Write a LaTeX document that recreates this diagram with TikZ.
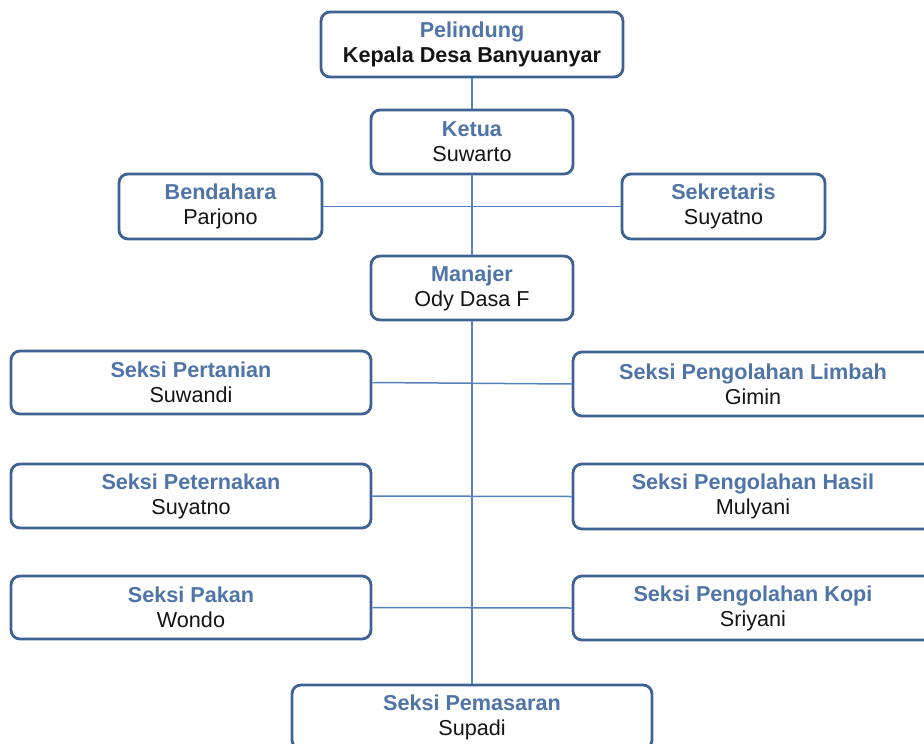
\documentclass[tikz,border=0pt]{standalone}
\usepackage{fontspec}
\setmainfont{Liberation Sans}
\definecolor{boxline}{RGB}{62,98,146}
\definecolor{titleblue}{RGB}{79,116,168}
\definecolor{conn}{RGB}{88,128,186}
\definecolor{nametext}{RGB}{20,20,20}
\tikzset{
  orgbox/.style={draw=boxline, line width=2.8pt, rounded corners=9pt, fill=white,
    align=center, inner sep=0pt, font=\fontsize{21.6}{25}\selectfont, text=nametext},
  link/.style={draw=conn, line width=1.5pt}
}
\newcommand{\ttl}[1]{{\bfseries\color{titleblue}#1}}
\begin{document}
\begin{tikzpicture}[x=1pt,y=1pt]
\useasboundingbox (0,0) rectangle (924,-744);
\node[orgbox, minimum width=302pt, minimum height=65pt] (pel) at (472,-44.5) {\ttl{Pelindung}\\\bfseries Kepala Desa Banyuanyar};
\node[orgbox, minimum width=202pt, minimum height=64pt] (ket) at (472,-142) {\ttl{Ketua}\\Suwarto};
\node[orgbox, minimum width=203pt, minimum height=65pt] (ben) at (220.5,-206.5) {\ttl{Bendahara}\\Parjono};
\node[orgbox, minimum width=203pt, minimum height=65pt] (sek) at (723.5,-206.5) {\ttl{Sekretaris}\\Suyatno};
\node[orgbox, minimum width=202pt, minimum height=64pt] (man) at (472,-288) {\ttl{Manajer}\\Ody Dasa F};
\node[orgbox, minimum width=360pt, minimum height=63pt] (per) at (191,-382.5) {\ttl{Seksi Pertanian}\\Suwandi};
\node[orgbox, minimum width=360pt, minimum height=64pt] (lim) at (753,-384) {\ttl{Seksi Pengolahan Limbah}\\Gimin};
\node[orgbox, minimum width=360pt, minimum height=64pt] (pet) at (191,-496) {\ttl{Seksi Peternakan}\\Suyatno};
\node[orgbox, minimum width=360pt, minimum height=65pt] (has) at (753,-496.5) {\ttl{Seksi Pengolahan Hasil}\\Mulyani};
\node[orgbox, minimum width=360pt, minimum height=63pt] (pak) at (191,-607.5) {\ttl{Seksi Pakan}\\Wondo};
\node[orgbox, minimum width=360pt, minimum height=64pt] (kop) at (753,-608) {\ttl{Seksi Pengolahan Kopi}\\Sriyani};
\node[orgbox, minimum width=360pt, minimum height=64pt] (pem) at (472,-717) {\ttl{Seksi Pemasaran}\\Supadi};
\draw[link] (pel.south) -- (ket.north);
\draw[link] (ket.south) -- (man.north);
\draw[link] (man.south) -- (pem.north);
\draw[link] (ben.east) -- (sek.west);
\draw[link] (per.east) -- (lim.west);
\draw[link] (pet.east) -- (has.west);
\draw[link] (pak.east) -- (kop.west);
\end{tikzpicture}
\end{document}
